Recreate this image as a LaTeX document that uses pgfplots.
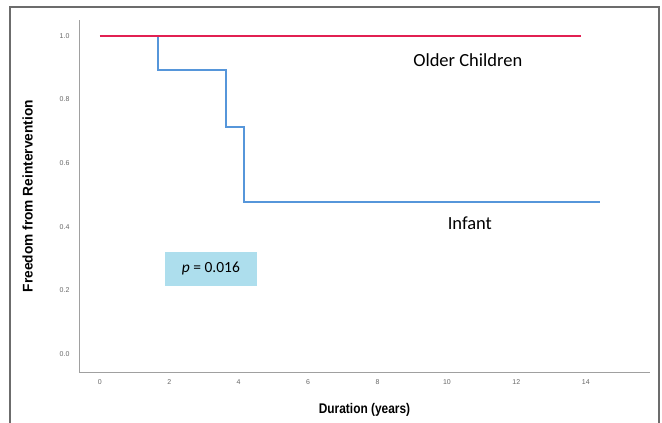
\documentclass[border=0pt]{standalone}
\usepackage{pgfplots}
\pgfplotsset{compat=1.18}
\usepackage{fontspec}
\setmainfont{Liberation Sans}
\newfontfamily\calib{Carlito}
\definecolor{kmred}{RGB}{226,32,82}
\definecolor{kmblue}{RGB}{86,150,218}
\definecolor{pbox}{RGB}{173,222,237}
\definecolor{axgray}{RGB}{160,160,160}
\begin{document}
\begin{tikzpicture}[x=1pt,y=1pt]
\path[use as bounding box] (0pt,0pt) rectangle (662pt,423pt);
\draw[color=gray!85!black, line width=1.6pt] (10pt,-2pt)--(10pt,416pt)--(659pt,416pt)--(659pt,-2pt);
\begin{axis}[
  at={(79pt,51pt)}, anchor=south west,
  scale only axis, width=571pt, height=352pt,
  xmin=-0.6, xmax=15.85, ymin=-0.057, ymax=1.05,
  axis lines*=left,
  axis line style={axgray, line width=0.9pt, -},
  xtick={0,2,...,14}, ytick={0,0.2,...,1.0},
  major tick length=0pt,
  yticklabel style={/pgf/number format/fixed, /pgf/number format/fixed zerofill, /pgf/number format/precision=1, xshift=-6pt},
  tick label style={font=\fontsize{7}{8}\selectfont, text=gray!80!black},
  xticklabel style={yshift=-4pt},
  /pgf/number format/assume math mode=true,
  xlabel={\scalebox{0.85}[1]{\fontsize{14}{16}\selectfont\bfseries Duration (years)}},
  ylabel={\scalebox{0.98}[1]{\fontsize{14}{16}\selectfont\bfseries Freedom from Reintervention}},
  xlabel style={yshift=-12pt},
  ylabel style={yshift=20pt},
  clip=false,
]
\addplot[kmblue, line width=2.3pt, const plot] coordinates {
  (0,1.0) (1.67,0.893) (3.63,0.714) (4.15,0.478) (14.4,0.478)
};
\addplot[kmred, line width=2.3pt] coordinates {
  (0,1.0) (13.86,1.0)
};
\node[font=\calib\fontsize{18.5}{20}\selectfont, anchor=center] at (axis cs:10.6,0.923) {Older Children};
\node[font=\calib\fontsize{18.5}{20}\selectfont, anchor=center] at (axis cs:10.66,0.412) {Infant};
\node[fill=pbox, minimum width=92pt, minimum height=34pt, inner sep=0pt,
  font=\calib\fontsize{15.5}{17}\selectfont] at (axis cs:3.2,0.267) {\textit{p} = 0.016};
\end{axis}
\end{tikzpicture}
\end{document}
